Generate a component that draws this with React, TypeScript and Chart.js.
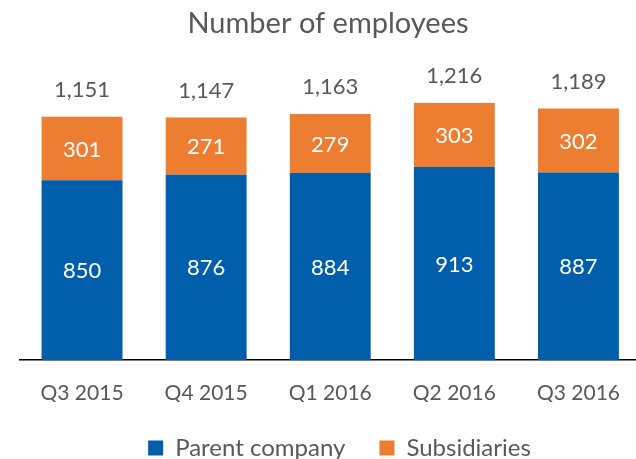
import React, { useEffect, useRef } from "react";
import { Chart, registerables } from "chart.js";

Chart.register(...registerables);

const categories = ["Q3 2015", "Q4 2015", "Q1 2016", "Q2 2016", "Q3 2016"];
const parentCompany = [850, 876, 884, 913, 887];
const subsidiaries = [301, 271, 279, 303, 302];
const totals = [1151, 1147, 1163, 1216, 1189];
const yMax = 1400;

const BLUE = "#005EAB";
const ORANGE = "#ED7D31";
const GRAY = "#595959";
const FONT = "Lato, 'Open Sans', sans-serif";

const labelPlugin = {
  id: "labelPlugin",
  afterLayout(chart: any) {
    if (chart.legend) {
      chart.legend.left += 9;
      chart.legend.right += 9;
    }
  },
  afterDatasetsDraw(chart: any) {
    const ctx = chart.ctx;
    ctx.save();
    ctx.textAlign = "center";
    ctx.textBaseline = "middle";
    ctx.font = `22px ${FONT}`;
    chart.data.datasets.forEach((ds: any, di: number) => {
      const meta = chart.getDatasetMeta(di);
      meta.data.forEach((el: any, i: number) => {
        const { x, y, base } = el.getProps(["x", "y", "base"], true);
        ctx.fillStyle = "#ffffff";
        ctx.fillText(String(ds.data[i]), x, (y + base) / 2 + 1);
      });
    });
    const top = chart.getDatasetMeta(chart.data.datasets.length - 1);
    top.data.forEach((el: any, i: number) => {
      const { x, y } = el.getProps(["x", "y"], true);
      ctx.fillStyle = GRAY;
      ctx.fillText(totals[i].toLocaleString("en-US"), x, y - 27);
    });
    ctx.font = `29px ${FONT}`;
    ctx.fillStyle = GRAY;
    ctx.fillText("Number of employees", 328, 24);
    ctx.restore();
  },
};

export default function App() {
  const ref = useRef<HTMLCanvasElement>(null);
  useEffect(() => {
    const chart = new Chart(ref.current as HTMLCanvasElement, {
      type: "bar",
      data: {
        labels: categories,
        datasets: [
          {
            label: "Parent company",
            data: parentCompany,
            backgroundColor: BLUE,
            barPercentage: 0.652,
            categoryPercentage: 1,
          },
          {
            label: "Subsidiaries",
            data: subsidiaries,
            backgroundColor: ORANGE,
            barPercentage: 0.652,
            categoryPercentage: 1,
          },
        ],
      },
      options: {
        responsive: false,
        animation: false,
        layout: { padding: { top: 64, left: 20, right: 0, bottom: 2 } },
        scales: {
          x: {
            stacked: true,
            grid: { display: false, drawTicks: false },
            border: { display: true, color: "#000000", width: 1.5 },
            ticks: { color: GRAY, font: { family: FONT, size: 21 }, padding: 21 },
            afterFit: (scale: any) => {
              scale.height = 42;
            },
          },
          y: {
            stacked: true,
            display: false,
            min: 0,
            max: yMax,
          },
        },
        plugins: {
          legend: {
            position: "bottom",
            labels: {
              color: GRAY,
              font: { family: FONT, size: 24 },
              boxWidth: 15,
              boxHeight: 15,
              padding: 34,
            },
          },
          tooltip: { enabled: false },
          title: { display: false },
        },
      },
      plugins: [labelPlugin],
    });
    return () => chart.destroy();
  }, []);
  return (
    <div
      style={{
        position: "fixed",
        left: 0,
        top: 0,
        width: 636,
        height: 459,
        overflow: "hidden",
        background: "#fff",
      }}
    >
      <canvas ref={ref} width={641} height={472} />
    </div>
  );
}
